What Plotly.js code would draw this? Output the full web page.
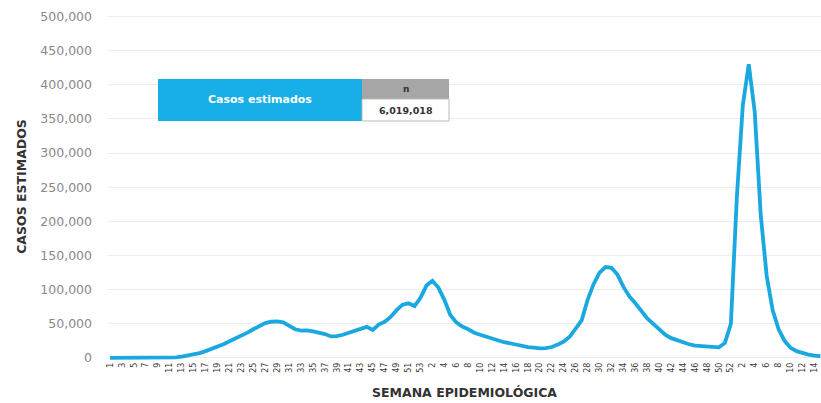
<!DOCTYPE html>
<html>
<head>
<meta charset="utf-8">
<script src="https://cdn.plot.ly/plotly-3.0.1.min.js"></script>
<style>html,body{margin:0;padding:0;background:#fff}#chart{width:821px;height:403px}</style>
</head>
<body>
<div id="chart"></div>
<script>
// Epidemiological weeks: 2020 (1-53), 2021 (1-52), 2022 (1-15)
const weeks2020 = Array.from({length:53},(_,k)=>k+1);
const weeks2021 = Array.from({length:52},(_,k)=>k+1);
const weeks2022 = Array.from({length:15},(_,k)=>k+1);

const cases = [
  0,0,0,0,0,0,0,0,0,0,
  300,900,1800,3200,5000,7000,10000,13000,16000,20000,
  24500,28500,31500,37000,42000,47000,51000,53000,53500,52000,
  47000,42000,40000,40500,39000,37500,35000,31500,32000,34000,
  37000,40000,43000,45500,41000,49000,53000,60000,70000,78000,
  80000,76000,88000,
  106000,113000,103000,85000,63000,52000,46000,42000,37000,34000,
  31000,29000,25000,23000,21500,19500,17500,16000,15000,14000,
  14500,16000,19500,24000,31000,42000,55000,85000,108000,125000,
  133000,132000,122000,104000,90000,80000,68000,58000,50000,41000,
  34000,29000,25500,22500,20000,18000,17500,17500,16500,15500,
  22000,50000,
  235000,370000,430000,360000,210000,120000,70000,42000,25000,15000,
  10000,7000,5000,3500,2500
];

const totalCases = "6,019,018";

const cats = [];
const weekLabels = [];
weeks2020.forEach(w=>{cats.push("2020-"+w);weekLabels.push(String(w));});
weeks2021.forEach(w=>{cats.push("2021-"+w);weekLabels.push(String(w));});
weeks2022.forEach(w=>{cats.push("2022-"+w);weekLabels.push(String(w));});

const tickvals = cats.filter((c,k)=>k%2===0);
const ticktext = weekLabels.filter((c,k)=>k%2===0);

const trace = {
  x: cats, y: cases, type:'scatter', mode:'lines',
  line:{color:'#1aa8e0', width:3.8, shape:'linear'},
  hoverinfo:'skip'
};

const pl = 108, pr = 821, pt = 13, pb = 360;
const px = v => (v-pl)/(pr-pl);
const py = v => (pb-v)/(pb-pt);

const layout = {
  width:821, height:403,
  margin:{l:108, r:0, t:13, b:43},
  paper_bgcolor:'#fff', plot_bgcolor:'#fff',
  showlegend:false,
  font:{family:'"DejaVu Sans", sans-serif', color:'#333'},
  xaxis:{
    type:'category', range:[-0.35,119.1],
    tickvals:tickvals, ticktext:ticktext, tickangle:-90,
    tickfont:{size:8, color:'#3a3a3a', family:'"DejaVu Sans", sans-serif'},
    showgrid:false, zeroline:false, showline:false, ticks:'',
    title:{text:'<b>SEMANA EPIDEMIOLÓGICA</b>', font:{size:12.5, color:'#333', family:'"DejaVu Sans", sans-serif'}, standoff:16}
  },
  yaxis:{
    range:[-3000,505000], tickvals:[0,50000,100000,150000,200000,250000,300000,350000,400000,450000,500000],
    tickformat:',d', tickfont:{size:12.5, color:'#8a8a8a', family:'"DejaVu Sans", sans-serif'},
    ticklabelstandoff:15,
    showgrid:true, gridcolor:'#ececec', gridwidth:1, zeroline:false, showline:false, ticks:'',
    title:{text:'<b>CASOS ESTIMADOS</b>', font:{size:12.5, color:'#333', family:'"DejaVu Sans", sans-serif'}, standoff:10}
  },
  shapes:[
    {type:'rect', xref:'paper', yref:'paper', x0:px(158), x1:px(362), y0:py(121), y1:py(79), fillcolor:'#18aee8', line:{width:0}},
    {type:'rect', xref:'paper', yref:'paper', x0:px(362), x1:px(449), y0:py(99), y1:py(79), fillcolor:'#a6a6a6', line:{width:0}},
    {type:'rect', xref:'paper', yref:'paper', x0:px(362), x1:px(449), y0:py(121), y1:py(99), fillcolor:'#ffffff', line:{color:'#bbbbbb', width:1}}
  ],
  annotations:[
    {xref:'paper', yref:'paper', x:px(260), y:py(100), text:'<b>Casos estimados</b>', showarrow:false, font:{size:11, color:'#ffffff'}, xanchor:'center', yanchor:'middle'},
    {xref:'paper', yref:'paper', x:px(405.5), y:py(89), text:'<b>n</b>', showarrow:false, font:{size:9, color:'#333'}, xanchor:'center', yanchor:'middle'},
    {xref:'paper', yref:'paper', x:px(405.5), y:py(110), text:'<b>'+totalCases+'</b>', showarrow:false, font:{size:9.5, color:'#333'}, xanchor:'center', yanchor:'middle'}
  ]
};

Plotly.newPlot('chart',[trace],layout,{displayModeBar:false, staticPlot:true});
</script>
</body>
</html>
